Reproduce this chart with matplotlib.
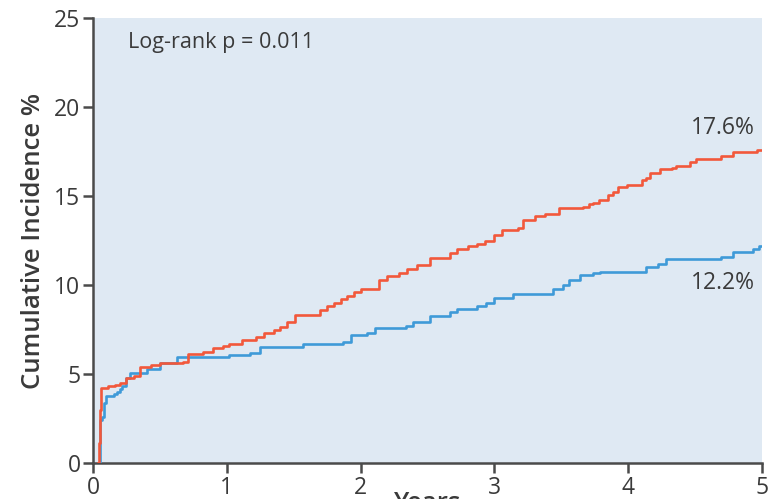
import matplotlib
matplotlib.use("Agg")
import matplotlib.pyplot as plt
import numpy as np

plt.rcParams['font.family'] = ['Open Sans', 'DejaVu Sans']

# cumulative incidence, step curves (years, %)
red_t = [0.04, 0.045, 0.05, 0.055, 0.06, 0.11, 0.165, 0.2, 0.25, 0.31,
         0.35, 0.43, 0.5, 0.67, 0.71, 0.82, 0.9, 0.97, 1.02, 1.11,
         1.22, 1.28, 1.35, 1.4, 1.45, 1.51, 1.70, 1.75, 1.8, 1.85,
         1.9, 1.95, 2.0, 2.14, 2.2, 2.29, 2.35, 2.42, 2.52, 2.67,
         2.72, 2.8, 2.87, 2.93, 3.0, 3.06, 3.18, 3.21, 3.3, 3.38,
         3.48, 3.66, 3.71, 3.74, 3.78, 3.85, 3.89, 3.92, 3.99, 4.10,
         4.13, 4.16, 4.24, 4.33, 4.36, 4.46, 4.51, 4.69, 4.78, 4.96]
red_v = [0, 1.1, 2.0, 3.0, 4.2, 4.3, 4.4, 4.5, 4.8, 4.9,
         5.4, 5.5, 5.6, 5.7, 6.1, 6.25, 6.45, 6.6, 6.7, 6.9,
         7.1, 7.3, 7.5, 7.65, 7.9, 8.3, 8.6, 8.8, 9.0, 9.2,
         9.4, 9.6, 9.8, 10.3, 10.5, 10.7, 10.9, 11.1, 11.5, 11.8,
         12.0, 12.2, 12.3, 12.5, 12.8, 13.1, 13.2, 13.65, 13.9, 14.0,
         14.3, 14.4, 14.55, 14.6, 14.8, 15.05, 15.2, 15.5, 15.6, 15.9,
         16.0, 16.3, 16.5, 16.6, 16.7, 16.9, 17.1, 17.25, 17.45, 17.6]

blue_t = [0.05, 0.055, 0.07, 0.085, 0.1, 0.16, 0.18, 0.2, 0.22, 0.25,
          0.28, 0.4, 0.5, 0.63, 1.02, 1.17, 1.25, 1.57, 1.87, 1.93,
          2.05, 2.11, 2.34, 2.39, 2.44, 2.52, 2.67, 2.72, 2.87, 2.94,
          3.0, 3.14, 3.44, 3.51, 3.56, 3.64, 3.74, 3.79, 4.13, 4.22,
          4.28, 4.69, 4.78, 4.93, 4.98]
blue_v = [0, 2.4, 2.6, 3.4, 3.75, 3.85, 4.0, 4.15, 4.3, 4.8,
          5.05, 5.3, 5.6, 5.95, 6.07, 6.17, 6.5, 6.7, 6.8, 7.2,
          7.3, 7.6, 7.7, 7.9, 7.95, 8.25, 8.5, 8.65, 8.8, 9.0,
          9.25, 9.5, 9.8, 10.0, 10.3, 10.55, 10.65, 10.75, 11.0, 11.2,
          11.45, 11.6, 11.85, 12.05, 12.2]

red_label = "17.6%"
blue_label = "12.2%"
pval_text = "Log-rank p = 0.011"

txt = '#3a3a3a'
spine = '#4a4a4a'

fig = plt.figure(figsize=(7.68, 4.99), dpi=100)
ax = fig.add_axes([0.1211, 0.0721, 0.8711, 0.8918])
ax.set_facecolor('#dfe9f3')

bt = np.append(blue_t, 5.0)
bv = np.append(blue_v, blue_v[-1])
rt = np.append(red_t, 5.0)
rv = np.append(red_v, red_v[-1])
ax.step(bt, bv, where='post', color='#3f9ad8', lw=1.9, zorder=3)
ax.step(rt, rv, where='post', color='#f2583b', lw=1.9, zorder=4)

ax.set_xlim(0, 5)
ax.set_ylim(0, 25)
ax.set_xticks(range(0, 6))
ax.set_yticks(range(0, 26, 5))

for s in ['top', 'right']:
    ax.spines[s].set_visible(False)
for s in ['left', 'bottom']:
    ax.spines[s].set_color(spine)
    ax.spines[s].set_linewidth(1.8)
ax.tick_params(direction='out', length=7, width=1.8, color=spine,
               labelsize=16.5, labelcolor=txt, pad=2)

ax.set_ylabel("Cumulative Incidence %", fontsize=18.5, color=txt,
              fontweight='semibold', labelpad=6)
# axis title sits at the very bottom edge of the figure
ax.set_xlabel("Years", fontsize=18.5, color=txt, fontweight='semibold',
              labelpad=-6)

ax.text(0.26, 23.6, pval_text, fontsize=15.5, color=txt, va='center')
ax.text(4.71, 18.8, red_label, fontsize=16.5, color=txt, ha='center', va='center')
ax.text(4.71, 10.1, blue_label, fontsize=16.5, color=txt, ha='center', va='center')

fig.savefig('out.png', dpi=100)
